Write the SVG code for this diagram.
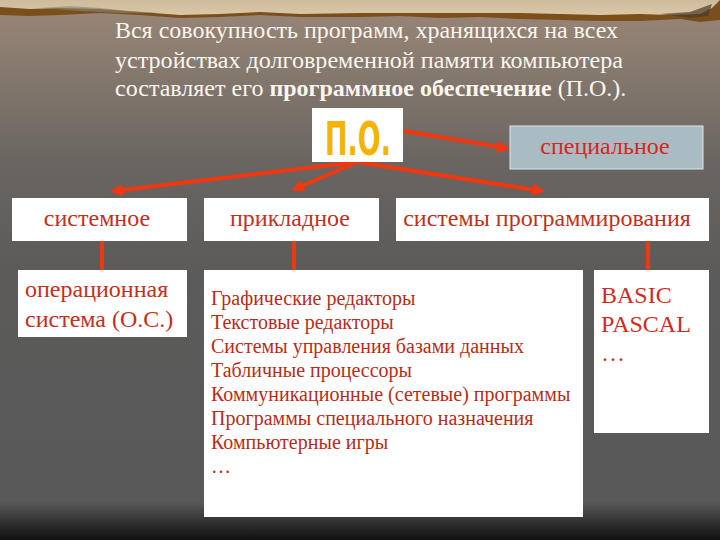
<svg xmlns="http://www.w3.org/2000/svg" width="720" height="540" viewBox="0 0 720 540">
<defs>
<linearGradient id="bg" x1="0" y1="0" x2="0" y2="1">
<stop offset="0" stop-color="#9a8778"/>
<stop offset="0.08" stop-color="#8e7f72"/>
<stop offset="0.3" stop-color="#6a6561"/>
<stop offset="0.5" stop-color="#5c5b5a"/>
<stop offset="0.93" stop-color="#595959"/>
<stop offset="0.97" stop-color="#2e2e2e"/>
<stop offset="1" stop-color="#111"/>
</linearGradient>
<linearGradient id="paper" x1="0" y1="0" x2="0" y2="1">
<stop offset="0" stop-color="#cdbb9c"/>
<stop offset="1" stop-color="#d9c7a6"/>
</linearGradient>
<marker id="ah" viewBox="0 0 10 10" refX="7" refY="5" markerWidth="3.2" markerHeight="3.2" orient="auto" markerUnits="strokeWidth">
<path d="M0,0 L10,5 L0,10 Z" fill="#f2360f"/>
</marker>
<style>
.box{fill:#ffffff;}
.lbl{fill:#c2301b;font-size:24px;}
.lst{fill:#b92c16;font-size:20px;}
.top{fill:#fbf6ee;font-size:24px;}
.con{stroke:#f2360f;stroke-width:4;fill:none;stroke-linecap:round;}
</style>
</defs>
<rect x="0" y="0" width="720" height="540" fill="url(#bg)"/>
<polygon points="0,0 720,0 720,20 700,22 680,19 640,21 600,21 560,20 520,19 480,17 440,18 400,16 360,17 300,17 260,15 220,17 180,18 140,15 100,13 60,15 30,16 0,15" fill="#7a4f1c"/>
<polygon points="0,0 720,0 712,8 700,14 670,15 640,14 600,15 560,14 520,13 480,13 440,13 400,13 360,13 300,14 260,12 220,14 180,15 140,12 100,9 60,8 30,9 0,7" fill="url(#paper)"/>
<polygon points="40,8 70,6 100,8 130,11 160,13 120,13 80,11" fill="#8a8676" opacity="0.6"/>
<polygon points="660,14 690,12 712,4 708,16 690,18" fill="#4b3a28" opacity="0.7"/>
<g id="intro">
<text class="top" font-family="'Liberation Serif', serif" x="115" y="38" textLength="503" lengthAdjust="spacingAndGlyphs">Вся совокупность программ, хранящихся на всех</text>
<text class="top" font-family="'Liberation Serif', serif" x="115" y="68" textLength="508" lengthAdjust="spacingAndGlyphs">устройствах долговременной памяти компьютера</text>
<text class="top" font-family="'Liberation Serif', serif" x="115" y="96">составляет его <tspan font-weight="bold">программное обеспечение</tspan> (П.О.).</text>
</g>
<g id="connectors">
<line class="con" x1="357" y1="162" x2="114" y2="191" marker-end="url(#ah)"/>
<line class="con" x1="357" y1="162" x2="295" y2="189" marker-end="url(#ah)"/>
<line class="con" x1="357" y1="162" x2="541" y2="191" marker-end="url(#ah)"/>
<line class="con" x1="404" y1="131" x2="506" y2="148" marker-end="url(#ah)"/>
<line class="con" x1="102" y1="241" x2="102" y2="270"/>
<line class="con" x1="294" y1="241" x2="294" y2="270"/>
<line class="con" x1="648" y1="241" x2="648" y2="270"/>
</g>
<g id="po">
<rect x="312" y="108" width="91" height="54" fill="#ffffff"/>
<text transform="translate(358,155) scale(1,1.4)" x="0" y="0" text-anchor="middle" font-family="'DejaVu Sans Condensed', sans-serif" font-weight="bold" font-size="33" fill="#f5b300" textLength="66" lengthAdjust="spacingAndGlyphs">П.О.</text>
</g>
<g id="special">
<rect x="510" y="126" width="193" height="43" fill="#a9bcc4" stroke="#dfe6e8" stroke-width="1"/>
<text font-family="'Liberation Serif', serif" x="605" y="154" text-anchor="middle" font-size="24" fill="#d8261c">специальное</text>
</g>
<g id="system">
<rect class="box" x="12" y="198" width="175" height="43"/>
<text class="lbl" font-family="'Liberation Serif', serif" x="97" y="226" text-anchor="middle">системное</text>
</g>
<g id="applied">
<rect class="box" x="204" y="198" width="175" height="43"/>
<text class="lbl" font-family="'Liberation Serif', serif" x="290" y="226" text-anchor="middle">прикладное</text>
</g>
<g id="progsys">
<rect class="box" x="396" y="198" width="313" height="43"/>
<text class="lbl" font-family="'Liberation Serif', serif" x="547" y="226" text-anchor="middle">системы программирования</text>
</g>
<g id="os">
<rect class="box" x="18" y="270" width="169" height="67"/>
<text class="lbl" font-family="'Liberation Serif', serif" x="25" y="297">операционная</text>
<text class="lbl" font-family="'Liberation Serif', serif" x="25" y="327">система (О.С.)</text>
</g>
<g id="applist">
<rect class="box" x="204" y="270" width="379" height="247"/>
<text class="lst" font-family="'Liberation Serif', serif" x="211" y="305">Графические редакторы</text>
<text class="lst" font-family="'Liberation Serif', serif" x="211" y="329">Текстовые редакторы</text>
<text class="lst" font-family="'Liberation Serif', serif" x="211" y="353">Системы управления базами данных</text>
<text class="lst" font-family="'Liberation Serif', serif" x="211" y="377">Табличные процессоры</text>
<text class="lst" font-family="'Liberation Serif', serif" x="211" y="401">Коммуникационные (сетевые) программы</text>
<text class="lst" font-family="'Liberation Serif', serif" x="211" y="425">Программы специального назначения</text>
<text class="lst" font-family="'Liberation Serif', serif" x="211" y="449">Компьютерные игры</text>
<text class="lst" font-family="'Liberation Serif', serif" x="211" y="473">…</text>
</g>
<g id="langs">
<rect class="box" x="594" y="270" width="115" height="163"/>
<text font-family="'Liberation Serif', serif" x="601" y="303" font-size="24" fill="#d42a1c">BASIC</text>
<text font-family="'Liberation Serif', serif" x="601" y="332" font-size="24" fill="#d42a1c">PASCAL</text>
<text font-family="'Liberation Serif', serif" x="601" y="361" font-size="24" fill="#c2301b">…</text>
</g>
</svg>
